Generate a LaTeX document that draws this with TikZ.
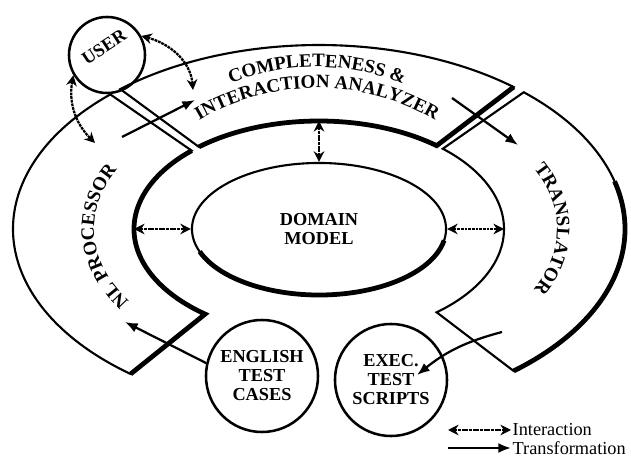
\documentclass[tikz,border=0pt]{standalone}
\usepackage{fontspec}
\setmainfont{Liberation Serif}
\usepackage{tikz}
\usetikzlibrary{shapes.geometric, arrows.meta, positioning, calc, decorations.text}
\newcommand\labfont{\fontsize{13}{13.5}\selectfont\bfseries}
\newcommand\arcfont{\fontsize{13.5}{14}\selectfont\bfseries}
\newcommand\legfont{\fontsize{13}{14}\selectfont}

\begin{document}
\begin{tikzpicture}[x=0.025cm, y=0.025cm,
  ring/.style={line width=1.5pt, line join=miter},
  heavy/.style={line width=3.4pt},
  blob/.style={circle, draw, line width=1.8pt, minimum size=2.8cm, inner sep=0pt,
    align=center, font=\labfont},
  trans/.style={-{Latex[length=9pt, width=7pt]}, line width=1.6pt},
  inter/.style={{Stealth[length=7.5pt, width=7.5pt]}-{Stealth[length=7.5pt, width=7.5pt]},
    line width=1.6pt, dash pattern=on 2pt off 0.6pt},
  curved/.style={decorate, decoration={text along path, text align=center,
    text={|\arcfont|#1}}}]
  \useasboundingbox (0,0) rectangle (631,459);
  \coordinate (c) at (319,230);

  \draw[ring] ($(c)+(133:306 and 184)$) arc[start angle=133, end angle=232, x radius=306, y radius=184]
    -- ($(c)+(232:185 and 108)$) arc[start angle=232, end angle=133.5, x radius=185, y radius=108] -- cycle;
  \draw[heavy] ($(c)+(133.5:185 and 108)$) arc[start angle=133.5, end angle=232, x radius=185, y radius=108]
    -- ($(c)+(232:306 and 184)$);

  \draw[ring] ($(c)+(130.5:306 and 184)$) arc[start angle=130.5, end angle=50.5, x radius=306, y radius=184]
    -- ($(c)+(50.5:185 and 108)$) arc[start angle=50.5, end angle=130.5, x radius=185, y radius=108] -- cycle;
  \draw[heavy] ($(c)+(130.5:185 and 108)$) arc[start angle=130.5, end angle=50.5, x radius=185, y radius=108]
    -- ($(c)+(50.5:306 and 184)$);

  \draw[ring] ($(c)+(48:306 and 184)$) arc[start angle=48, end angle=-50.5, x radius=306, y radius=184]
    -- ($(c)+(-50.5:185 and 108)$) arc[start angle=-50.5, end angle=48, x radius=185, y radius=108] -- cycle;
  \draw[heavy] ($(c)+(15:306 and 184)$) arc[start angle=15, end angle=-50.5, x radius=306, y radius=184];

  \path[curved={COMPLETENESS {\&}}] ($(317,162)+(128:230)$) arc[start angle=128, end angle=52, radius=230];
  \path[curved={INTERACTION ANALYZER}] ($(317,139)+(130:232)$) arc[start angle=130, end angle=50, radius=232];
  \path[curved={NL PROCESSOR}] ($(c)+(240:225 and 134)$) arc[start angle=240, end angle=125, x radius=225, y radius=134];
  \path[curved={TRANSLATOR}] ($(c)+(55:238 and 140)$) arc[start angle=55, end angle=-55, x radius=238, y radius=140];

  \node[ellipse, draw, line width=1.5pt, minimum width=6.35cm, minimum height=3.3cm,
    align=center, font=\labfont] (dom) at (c) {DOMAIN\\MODEL};
  \draw[heavy] (dom.center) ++(200:127 and 66) arc[start angle=200, end angle=350, x radius=127, y radius=66];

  \node[blob, minimum size=1.9cm] (user) at (107,404) {};
  \node[rotate=33, font=\labfont] (usertxt) at (104,412) {USER};
  \node[blob] (eng) at (262,83) {ENGLISH\\TEST\\CASES};
  \node[blob] (exec) at (391,79) {EXEC.\\TEST\\SCRIPTS};

  \coordinate (ana-u) at (193,369);
  \coordinate (nl-u) at (95,316);
  \coordinate (ana-d) at (319,338);
  \coordinate (nl-d) at (134,230);
  \coordinate (tr-d) at (504,230);
  \draw[inter] (user.29) to[out=-15, in=95] (ana-u);
  \draw[inter] (user.211) to[out=-100, in=135] (nl-u);
  \draw[inter] (ana-d) -- (dom.north);
  \draw[inter] (nl-d) -- (dom.west);
  \draw[inter] (dom.east) -- (tr-d);

  \coordinate (nl-a) at (122,322);
  \coordinate (ana-n) at (195,359);
  \coordinate (ana-t) at (452,361);
  \coordinate (tr-a) at (518,314);
  \coordinate (tr-e) at (502,127);
  \coordinate (exec-in) at ($(exec.center)+(26,5)$);
  \coordinate (nl-e) at (125,137);
  \draw[trans] (nl-a) -- (ana-n);
  \draw[trans] (ana-t) -- (tr-a);
  \draw[trans] (tr-e) to[bend right=12] (exec-in);
  \draw[trans] (eng.167) -- (nl-e);

  \node[anchor=west, inner sep=1pt, font=\legfont] (lg-i) at (511,29) {Interaction};
  \node[anchor=west, inner sep=1pt, font=\legfont] (lg-t) at (511,11) {Transformation};
  \coordinate (lg-i0) at (448,29);
  \coordinate (lg-t0) at (448,11);
  \draw[inter] (lg-i0) -- (lg-i);
  \draw[trans] (lg-t0) -- (lg-t);
\end{tikzpicture}
\end{document}
